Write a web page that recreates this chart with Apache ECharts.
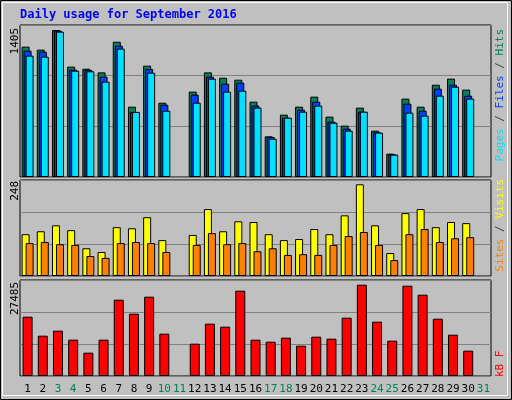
<!DOCTYPE html>
<html><head><meta charset="utf-8">
<script src="https://cdn.jsdelivr.net/npm/echarts@6/dist/echarts.min.js"></script>
<style>html,body{margin:0;padding:0;background:#c0c0c0}#c{width:512px;height:400px}</style>
</head><body><div id="c"></div>
<script>
const days = ['1','2','3','4','5','6','7','8','9','10','11','12','13','14','15','16','17','18','19','20','21','22','23','24','25','26','27','28','29','30','31'];
const weekend = ['3','4','10','11','17','18','24','25','31'];
const hits  = [1246,1217,1405,1055,1035,1000,1293,672,1064,710,null,816,1000,949,930,720,389,596,672,768,577,491,663,443,223,749,672,882,940,835,null];
const files = [1207,1198,1399,1026,1023,959,1255,622,1032,691,null,787,959,892,902,682,382,567,643,720,529,462,624,427,217,701,634,844,882,777,null];
const pages = [1160,1150,1389,1016,1010,911,1227,622,997,634,null,710,940,816,825,663,366,567,624,682,519,443,624,424,213,615,586,777,863,749,null];
const visits= [113,121,137,124,75,65,132,129,159,97,null,111,181,121,148,146,113,97,100,127,113,164,248,137,62,170,181,132,146,143,null];
const sites = [89,92,86,84,54,49,89,92,89,65,null,84,116,86,89,67,75,57,59,57,84,108,119,84,43,113,127,92,102,105,null];
const kbytes= [17855,12138,13642,10934,7022,10934,22971,18758,23874,12739,null,9730,15749,14846,25680,10934,10332,11536,9128,11837,11235,17554,27485,16351,10633,27184,24476,17253,12439,7624,null];
const yLabels = ['1405','248','27485'];

const font = 'DejaVu Sans Mono';
const grids = [
  {left:20,right:21,top:25,height:152},
  {left:20,right:21,top:180,height:96},
  {left:20,right:21,top:280,height:96}
].map(g=>Object.assign(g,{show:true,borderColor:'#000',borderWidth:1,backgroundColor:'#c0c0c0'}));
const xAxes = [0,1,2].map(i=>({type:'category',gridIndex:i,data:days,
  axisLine:{show:false},axisTick:{show:false},
  axisLabel:{show:i===2,interval:0,fontFamily:font,fontSize:11,margin:8,
    color:(v)=>weekend.includes(v)?'#00805c':'#000'}}));
const maxes=[1453,259.6,28900];
const yAxes = [0,1,2].map(i=>({type:'value',gridIndex:i,min:0,max:maxes[i],interval:maxes[i]/3,
  axisLabel:{show:false},axisLine:{show:false},axisTick:{show:false},
  splitLine:{show:true,lineStyle:{color:'#808080',width:1}}}));
const bs = (name,data,color,xi,w,gap)=>({type:'bar',name,data,xAxisIndex:xi,yAxisIndex:xi,
  barWidth:w,barGap:gap,itemStyle:{color,borderColor:'#000',borderWidth:1},animation:false});
const rt = (x,y,align,rich,text)=>({type:'text',x,y,rotation:Math.PI/2,
  style:{text,align,verticalAlign:'middle',font:'11px '+font,rich}});
const chart = echarts.init(document.getElementById('c'));
chart.setOption({
  backgroundColor:'#c0c0c0',animation:false,
  grid:grids,xAxis:xAxes,yAxis:yAxes,
  series:[
    bs('Hits',hits,'#00805c',0,8,'-75%'),
    bs('Files',files,'#0040ff',0,8,'-75%'),
    bs('Pages',pages,'#00e0ff',0,8,'-75%'),
    bs('Visits',visits,'#ffff00',1,8,'-50%'),
    bs('Sites',sites,'#ff8000',1,8,'-50%'),
    bs('kB F',kbytes,'#ff0000',2,10,'0%')
  ],
  graphic:[
    {type:'rect',shape:{x:0.5,y:0.5,width:511,height:399},style:{fill:'none',stroke:'#000',lineWidth:1}},
    {type:'rect',shape:{x:2.5,y:2.5,width:505,height:393},style:{fill:'none',stroke:'#fff',lineWidth:1}},
    {type:'text',x:20,y:9,style:{text:'Daily usage for September 2016',font:'bold 12px '+font,fill:'#0000ff'}},
    rt(15,28,'right',{},yLabels[0]),
    rt(15,181,'right',{},yLabels[1]),
    rt(15,282,'right',{},yLabels[2]),
    rt(500,29,'right',{p:{fill:'#00e0ff'},s:{fill:'#404040'},f:{fill:'#0040ff'},h:{fill:'#00805c'}},'{p|Pages}{s| / }{f|Files}{s| / }{h|Hits}'),
    rt(500,179,'right',{a:{fill:'#ff8000'},s:{fill:'#404040'},b:{fill:'#ffff00'}},'{a|Sites}{s| / }{b|Visits}'),
    rt(500,377,'left',{r:{fill:'#ff0000'}},'{r|kB F}')
  ]
});
</script></body></html>
